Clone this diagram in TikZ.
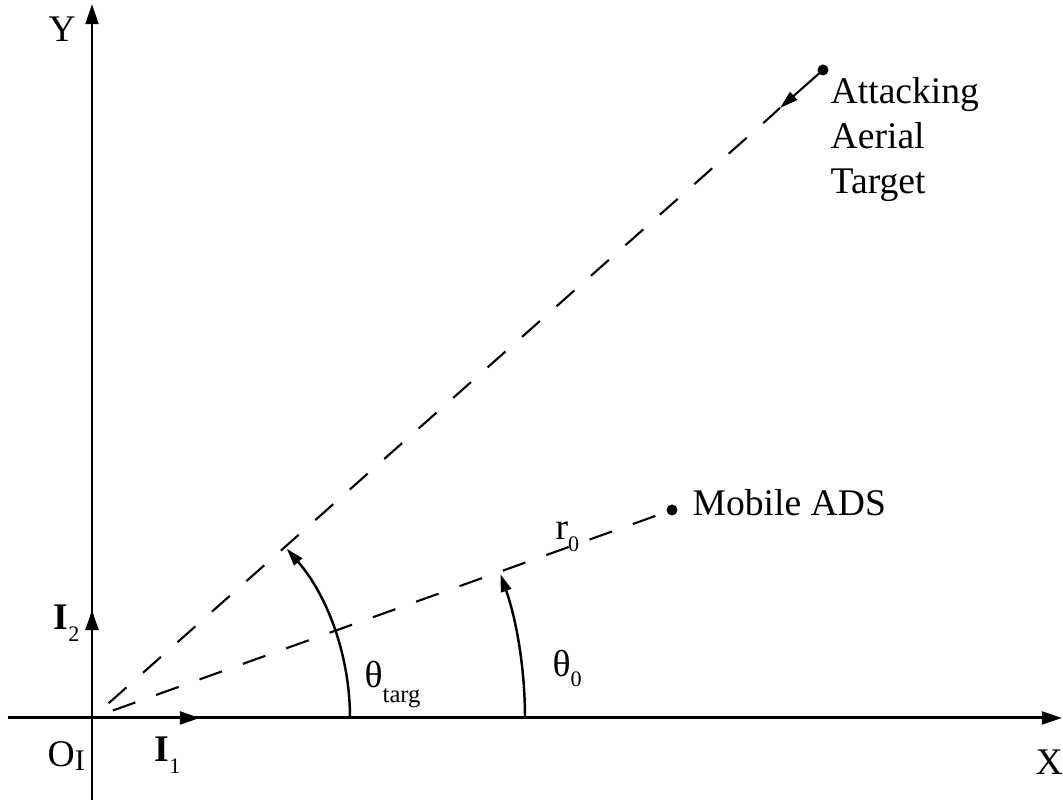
\documentclass[tikz,border=0pt]{standalone}
\usepackage{fontspec}
\setmainfont{Liberation Serif}
\usetikzlibrary{arrows.meta}
\tikzset{
  axisline/.style={line width=0.85pt, -{Triangle[length=5.7pt,width=3.6pt]}},
  sightline/.style={line width=0.6pt, dash pattern=on 6.8pt off 6.3pt, dash phase=6.8pt},
  anglearc/.style={line width=0.7pt, -{Triangle[length=5pt,width=3pt]}},
  motionarrow/.style={line width=0.6pt, -{Triangle[length=5.2pt,width=3pt]}},
  pointdot/.style={circle, fill, inner sep=0pt, minimum size=1.1mm},
  lbl/.style={inner sep=0pt, anchor=base west}
}
\newcommand{\lowsub}[2][3.2pt]{\raisebox{-#1}{\fontsize{6.3}{7}\selectfont #2}}

\begin{document}
\begin{tikzpicture}[x=0.1mm, y=0.1mm, font=\fontsize{10.7}{12.8}\selectfont]
  \useasboundingbox (0,0) rectangle (1063,800);

  % axes
  \coordinate (O) at (92,82);
  \coordinate (xstart) at (8,82);
  \coordinate (xend) at (1062,82);
  \coordinate (ystart) at (92,0);
  \coordinate (yend) at (92,796);
  \coordinate (e1) at (200,82);
  \coordinate (e2) at (92,190);
  \draw[axisline] (xstart) -- (xend);
  \draw[axisline] (ystart) -- (yend);
  \draw[axisline] (O) -- (e1);
  \draw[axisline] (O) -- (e2);

  \node[lbl] (ylab) at (48,758) {Y};
  \node[lbl] (xlab) at (1035,25) {X};
  \node[lbl] (olab) at (47,33) {O\raisebox{-1pt}{\fontsize{8.5}{9}\selectfont I}};
  \node[lbl] (e1lab) at (154,38) {\textbf{I}\lowsub{1}};
  \node[lbl] (e2lab) at (53,170) {\textbf{I}\lowsub{2}};

  % target and ADS
  \node[pointdot] (target) at (823,730) {};
  \node[pointdot] (ads) at (672,290) {};
  \coordinate (tgtend) at (769,682);
  \coordinate (tgttip) at (780,692);
  \draw[sightline] (O) -- (tgtend);
  \draw[sightline] (O) -- (ads.center);
  \draw[motionarrow] (target.center) -- (tgttip);
  \draw[line width=0.6pt] (tgttip) -- (tgtend);

  \node[inner sep=0pt, anchor=north west, align=left] (tgtlab) at (830,723) {Attacking\\Aerial\\Target};
  \node[lbl] (adslab) at (692,284) {Mobile ADS};
  \node[lbl] (rlab) at (555,260) {r\lowsub{0}};

  % angles
  \coordinate (a1) at (350,82);
  \coordinate (a2) at (525,82);
  \draw[anglearc] (a1) arc[start angle=0, end angle=41, radius=25.8mm];
  \draw[anglearc] (a2) arc[start angle=0, end angle=19.4, radius=43.3mm];
  \node[lbl] (thtlab) at (364,112) {θ\lowsub[4.2pt]{\fontsize{7}{8}\selectfont targ}};
  \node[lbl] (th0lab) at (552,123) {θ\lowsub[2.8pt]{0}};
\end{tikzpicture}
\end{document}
